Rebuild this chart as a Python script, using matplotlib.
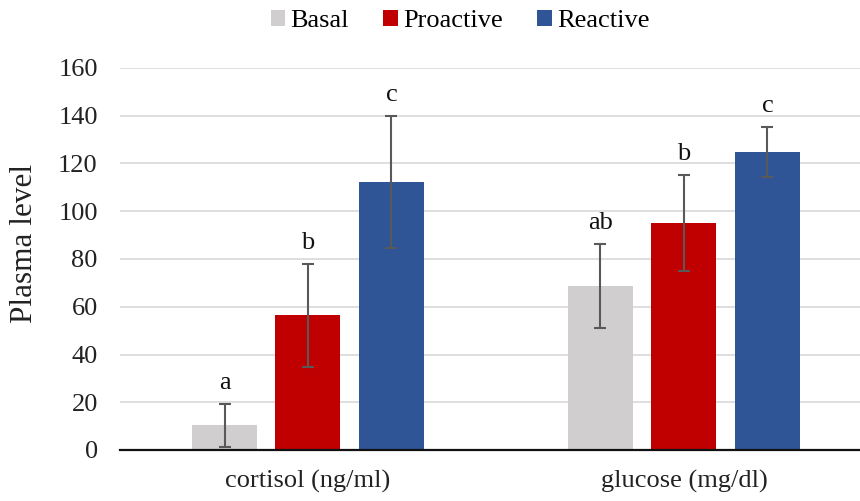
import numpy as np
import matplotlib
matplotlib.use("Agg")
import matplotlib.pyplot as plt

# ── data ──────────────────────────────────────────────────────────────────────
categories = ["cortisol (ng/ml)", "glucose (mg/dl)"]
groups     = ["Basal", "Proactive", "Reactive"]
means = {
    "Basal":     [10.3, 68.8],
    "Proactive": [56.4, 95.1],
    "Reactive":  [112.3, 124.8],
}
errors = {
    "Basal":     [9.0, 17.6],
    "Proactive": [21.6, 20.1],
    "Reactive":  [27.6, 10.4],
}
letters = {
    "Basal":     ["a", "ab"],
    "Proactive": ["b", "b"],
    "Reactive":  ["c", "c"],
}
yticks = [0, 20, 40, 60, 80, 100, 120, 140, 160]

COLORS = {"Basal": "#D0CECE", "Proactive": "#C00000", "Reactive": "#2F5597"}
SERIF = ["Liberation Serif", "DejaVu Serif"]

plt.rcParams["font.family"] = SERIF

W, H = 860, 501
fig = plt.figure(figsize=(W / 100, H / 100), dpi=100)
# plot area: x 120 → right edge, y 68 → 450 (pixels)
ax = fig.add_axes([120 / W, (H - 450) / H, (W - 120) / W, 382 / H])

x = np.arange(len(categories))
width, step = 0.173, 0.222
for i, g in enumerate(groups):
    xs = x + (i - 1) * step
    ax.bar(xs, means[g], width=width, color=COLORS[g], label=g, zorder=2)
    ax.errorbar(xs, means[g], yerr=errors[g], fmt="none", ecolor="#595959",
                elinewidth=1.5, capsize=4.3, capthick=1.5, zorder=3)
    for xi, m, e, lbl in zip(xs, means[g], errors[g], letters[g]):
        ax.annotate(lbl, (xi, m + e), xytext=(0, 7), textcoords="offset points",
                    ha="center", va="bottom", fontsize=19, color="#111111")

ax.set_xlim(-0.5, 1 + (W - 684) / 375.8)
ax.set_ylim(0, 160)
ax.set_yticks(yticks)
ax.set_xticks(x)
ax.set_xticklabels(categories)
ax.tick_params(axis="y", length=0, pad=16, labelsize=19, labelcolor="#222222")
ax.tick_params(axis="x", length=0, pad=14, labelsize=19, labelcolor="#222222")
ax.grid(axis="y", color="#D9D9D9", lw=1.2, zorder=0)
for s in ["top", "right", "left"]:
    ax.spines[s].set_visible(False)
ax.spines["bottom"].set_color("#111111")
ax.spines["bottom"].set_linewidth(1.6)
ax.spines["bottom"].set_zorder(4)

fig.text(25 / W, (H - 243) / H, "Plasma level", rotation=90, ha="center",
         va="center", fontsize=22.5, color="#222222")

fig.legend(loc="center", bbox_to_anchor=(460 / W, (H - 21) / H), ncol=3,
           frameon=False, fontsize=19, handlelength=0.55, handleheight=0.55,
           handletextpad=0.2, columnspacing=1.3, borderpad=0)

fig.savefig("out.png", dpi=100)
